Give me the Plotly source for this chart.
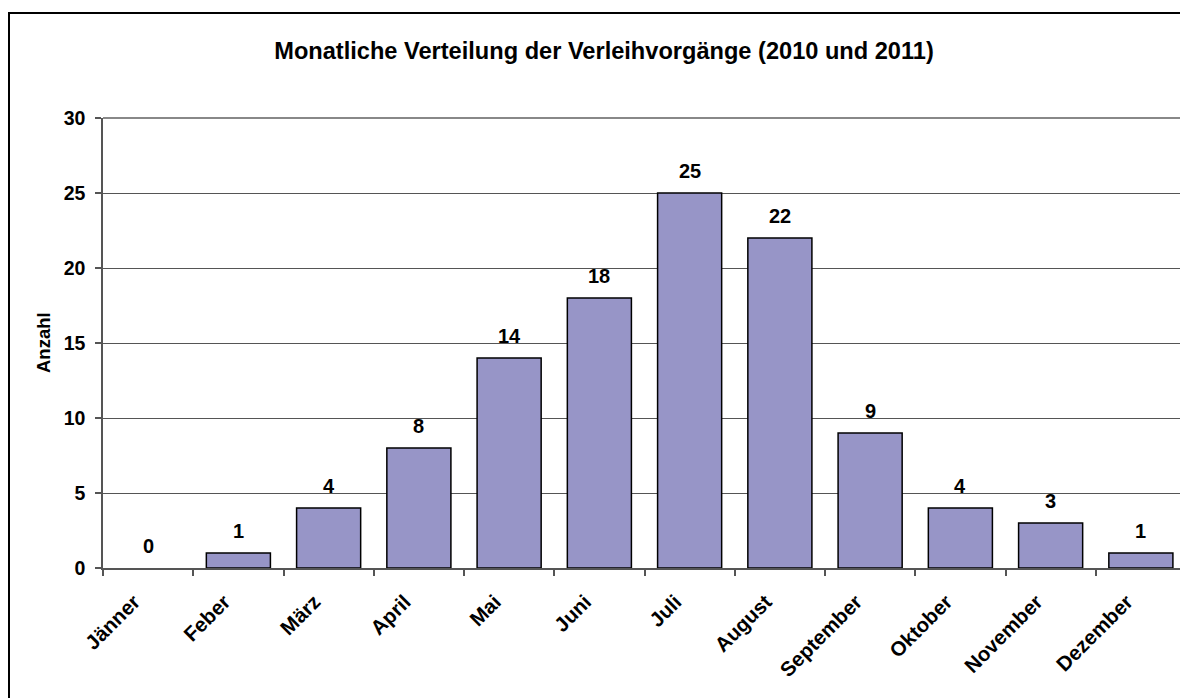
import plotly.graph_objects as go

months = ["Jänner", "Feber", "März", "April", "Mai", "Juni", "Juli",
          "August", "September", "Oktober", "November", "Dezember"]
counts = [0, 1, 4, 8, 14, 18, 25, 22, 9, 4, 3, 1]
y_ticks = [0, 5, 10, 15, 20, 25, 30]

title_text = "Monatliche Verteilung der Verleihvorgänge (2010 und 2011)"
y_title = "Anzahl"

FONT = "Liberation Sans, Arial, sans-serif"
# page body has an 8px margin; the figure is sized to fit the window
OFF = 8
W, H = 1188 - OFF, 698 - OFF
L, T = 103 - OFF, 118 - OFF
R = W - (1186 - OFF)
B = H - (568 - OFF)
pw, ph = W - L - R, H - T - B


def px_to_paper_x(xs):
    return (xs - OFF - L) / pw


def px_to_paper_y(ys):
    return (T + ph - (ys - OFF)) / ph


fig = go.Figure()
fig.add_trace(go.Bar(
    x=months, y=counts,
    marker=dict(color="#9795C7",
                line=dict(color="#000000",
                          width=[1.5 if c > 0 else 0 for c in counts])),
    width=0.71,
    hoverinfo="x+y",
))

annotations = []
for m, c in zip(months, counts):
    annotations.append(dict(
        x=m, y=c, xref="x", yref="y", text="<b>%d</b>" % c,
        showarrow=False, yanchor="bottom", yshift=9,
        font=dict(family=FONT, size=20, color="#000000"),
    ))
annotations.append(dict(
    x=px_to_paper_x(43), y=0.5, xref="paper", yref="paper",
    text="<b>%s</b>" % y_title, textangle=-90, showarrow=False,
    xanchor="center", yanchor="middle",
    font=dict(family=FONT, size=18.5, color="#000000"),
))

shapes = [
    # outer chart frame
    dict(type="rect", xref="paper", yref="paper",
         x0=px_to_paper_x(9), x1=px_to_paper_x(1200),
         y0=px_to_paper_y(720), y1=px_to_paper_y(13),
         line=dict(color="#000000", width=2), fillcolor="rgba(0,0,0,0)",
         layer="below"),
    # top/right gray border of plot area
    dict(type="line", xref="paper", yref="paper", x0=0, x1=1, y0=1, y1=1,
         line=dict(color="#888888", width=2)),
    dict(type="line", xref="paper", yref="paper", x0=1, x1=1, y0=0, y1=1,
         line=dict(color="#888888", width=2)),
]

fig.update_layout(
    width=W, height=H,
    margin=dict(l=L, r=R, t=T, b=B, pad=0),
    paper_bgcolor="white", plot_bgcolor="white",
    showlegend=False,
    title=dict(text="<b>%s</b>" % title_text, x=(604 - OFF) / W,
               xanchor="center", y=1 - (51 - OFF) / H, yanchor="middle",
               font=dict(family=FONT, size=23.6, color="#000000")),
    annotations=annotations,
    shapes=shapes,
    bargap=0.29,
)
fig.update_xaxes(
    type="category", tickangle=-45, tickson="boundaries",
    ticks="outside", ticklen=6, tickcolor="#555555", tickwidth=1.5,
    showline=True, linecolor="#555555", linewidth=1.5, mirror=False,
    showgrid=False,
    tickfont=dict(family=FONT, size=20.5, color="#000000", weight="bold"),
    ticklabelshift=-14, ticklabelstandoff=12,
)
fig.update_yaxes(
    range=[0, 30], tickvals=y_ticks, ticktext=["<b>%d</b>" % v for v in y_ticks],
    ticks="outside", ticklen=6, tickcolor="#555555", tickwidth=1.5,
    showline=True, linecolor="#555555", linewidth=1.5,
    showgrid=True, gridcolor="#555555", gridwidth=1,
    zeroline=False,
    tickfont=dict(family=FONT, size=19.5, color="#000000"),
    ticklabelstandoff=6,
)

fig.write_html("out.html")
